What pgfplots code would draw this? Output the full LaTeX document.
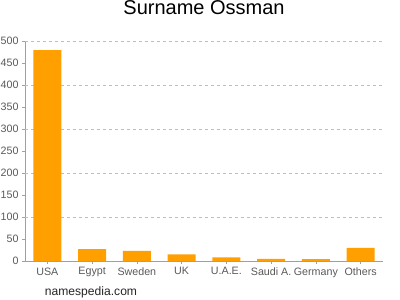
\documentclass[border=0pt]{standalone}
\usepackage{pgfplots}
\pgfplotsset{compat=1.18}
\usepackage{fontspec}
\setmainfont{Liberation Sans}
\definecolor{barorange}{RGB}{255,160,0}
\definecolor{ticktext}{RGB}{90,90,90}
\definecolor{axisgray}{RGB}{160,160,160}
\definecolor{gridgray}{RGB}{190,190,190}
\begin{document}
\begin{tikzpicture}[x=1pt,y=1pt]
\path[use as bounding box, fill=white] (0,0) rectangle (400,300);
\begin{axis}[
  at={(25pt,39pt)}, anchor=south west,
  scale only axis, width=358pt, height=220pt,
  xmin=-0.5, xmax=7.5, ymin=0, ymax=500,
  axis x line=bottom, axis y line=left,
  axis line style={-, draw=axisgray, line width=0.8pt},
  xtick=data,
  xticklabels={USA,Egypt,Sweden,UK,U.A.E.,Saudi A.,Germany,Others},
  ytick={0,50,...,500},
  extra y ticks={100,200,300,400,500},
  extra y tick labels={},
  extra y tick style={grid=major, major grid style={dashed, draw=gridgray, line width=0.6pt}, tick style={draw=none}},
  tick style={draw=axisgray, line width=0.6pt},
  tick align=outside,
  major tick length=3pt,
  ticklabel style={font=\fontsize{10.7}{12}\selectfont, text=ticktext},
  /pgf/number format/assume math mode=true,
  /pgf/number format/1000 sep={},
  title={Surname Ossman},
  title style={font=\fontsize{20}{24}\selectfont, at={(0.5,1)}, anchor=center, yshift=27pt, text=black},
  ybar, bar width=28pt,
]
\addplot[fill=barorange, draw=none] coordinates {
  (0,479) (1,27) (2,23) (3,15) (4,8) (5,5) (6,4) (7,30)
};
\end{axis}
\node[font=\fontsize{12.1}{14}\selectfont, text=black!85] at (91,8) {namespedia.com};
\end{tikzpicture}
\end{document}
